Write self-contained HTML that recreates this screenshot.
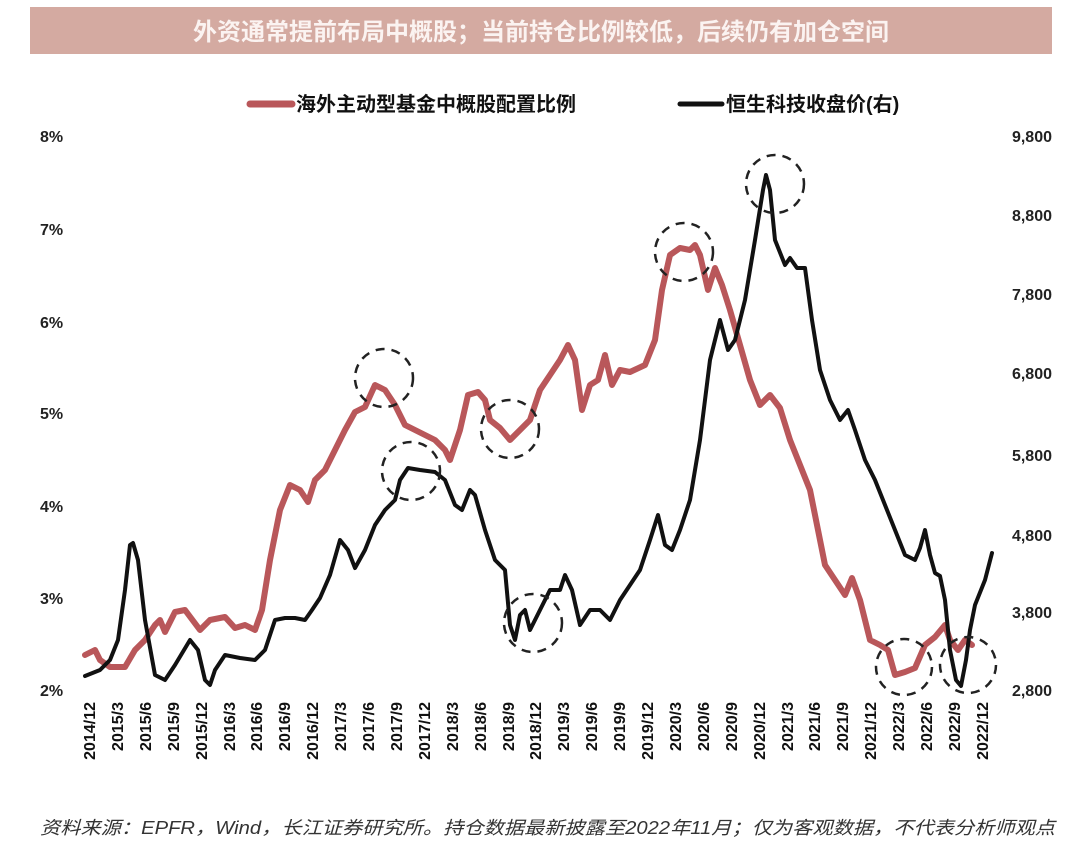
<!DOCTYPE html>
<html><head><meta charset="utf-8"><style>
body{margin:0;background:#fff;width:1080px;height:842px;overflow:hidden;font-family:"Liberation Sans","Noto Sans CJK SC",sans-serif}
</style></head><body>
<svg width="1080" height="842" xmlns="http://www.w3.org/2000/svg" font-family="Liberation Sans, Noto Sans CJK SC, sans-serif">
<rect x="30" y="7" width="1022" height="47" fill="#d4aaa1"/>
<text x="541" y="40" text-anchor="middle" font-size="24" font-weight="bold" fill="#fbf3f1">外资通常提前布局中概股；当前持仓比例较低，后续仍有加仓空间</text>
<line x1="250" y1="104" x2="292" y2="104" stroke="#b9575a" stroke-width="7" stroke-linecap="round"/>
<text x="296" y="111" font-size="20" font-weight="bold" fill="#111">海外主动型基金中概股配置比例</text>
<line x1="680" y1="104" x2="722" y2="104" stroke="#111" stroke-width="5" stroke-linecap="round"/>
<text x="726" y="111" font-size="20" font-weight="bold" fill="#111">恒生科技收盘价(右)</text>
<g font-size="16" font-weight="bold" fill="#222">
<text x="40" y="142">8%</text><text x="40" y="235">7%</text><text x="40" y="328">6%</text><text x="40" y="419">5%</text><text x="40" y="512">4%</text><text x="40" y="604">3%</text><text x="40" y="696">2%</text>
<g text-anchor="end"><text x="1052" y="142">9,800</text><text x="1052" y="221">8,800</text><text x="1052" y="300">7,800</text><text x="1052" y="379">6,800</text><text x="1052" y="461">5,800</text><text x="1052" y="541">4,800</text><text x="1052" y="618">3,800</text><text x="1052" y="696">2,800</text></g>
</g>
<g font-size="16" font-weight="bold" fill="#111" text-anchor="end">
<text transform="translate(95,702) rotate(-90)">2014/12</text><text transform="translate(123,702) rotate(-90)">2015/3</text><text transform="translate(151,702) rotate(-90)">2015/6</text><text transform="translate(179,702) rotate(-90)">2015/9</text><text transform="translate(207,702) rotate(-90)">2015/12</text><text transform="translate(235,702) rotate(-90)">2016/3</text><text transform="translate(262,702) rotate(-90)">2016/6</text><text transform="translate(290,702) rotate(-90)">2016/9</text><text transform="translate(318,702) rotate(-90)">2016/12</text><text transform="translate(346,702) rotate(-90)">2017/3</text><text transform="translate(374,702) rotate(-90)">2017/6</text><text transform="translate(402,702) rotate(-90)">2017/9</text><text transform="translate(430,702) rotate(-90)">2017/12</text><text transform="translate(458,702) rotate(-90)">2018/3</text><text transform="translate(486,702) rotate(-90)">2018/6</text><text transform="translate(514,702) rotate(-90)">2018/9</text><text transform="translate(541,702) rotate(-90)">2018/12</text><text transform="translate(569,702) rotate(-90)">2019/3</text><text transform="translate(597,702) rotate(-90)">2019/6</text><text transform="translate(625,702) rotate(-90)">2019/9</text><text transform="translate(653,702) rotate(-90)">2019/12</text><text transform="translate(681,702) rotate(-90)">2020/3</text><text transform="translate(709,702) rotate(-90)">2020/6</text><text transform="translate(737,702) rotate(-90)">2020/9</text><text transform="translate(765,702) rotate(-90)">2020/12</text><text transform="translate(793,702) rotate(-90)">2021/3</text><text transform="translate(820,702) rotate(-90)">2021/6</text><text transform="translate(848,702) rotate(-90)">2021/9</text><text transform="translate(876,702) rotate(-90)">2021/12</text><text transform="translate(904,702) rotate(-90)">2022/3</text><text transform="translate(932,702) rotate(-90)">2022/6</text><text transform="translate(960,702) rotate(-90)">2022/9</text><text transform="translate(988,702) rotate(-90)">2022/12</text>
</g>
<polyline fill="none" stroke="#b9575a" stroke-width="6" stroke-linejoin="round" stroke-linecap="round" points="85,655 95,650 100,660 110,667 125,667 135,650 145,640 155,625 160,620 165,632 175,612 185,610 200,630 210,620 225,617 235,628 245,625 255,630 262,610 270,560 280,510 290,485 300,490 308,502 315,480 325,470 335,450 345,430 355,412 365,407 375,385 385,390 395,405 405,425 415,430 425,435 435,440 445,450 450,460 460,430 468,395 478,392 485,400 490,420 500,428 510,440 520,430 530,420 540,390 550,375 560,360 568,345 575,360 582,410 590,385 598,380 605,355 612,385 620,370 630,372 645,365 655,340 662,290 670,255 680,248 690,250 695,245 700,255 708,290 715,268 722,285 730,310 740,345 750,380 760,405 770,395 780,408 790,440 800,465 810,490 818,530 825,565 835,580 845,595 852,578 860,600 870,640 880,645 888,650 895,675 905,672 915,668 925,645 935,637 945,625 950,640 958,650 965,640 972,645"/>
<polyline fill="none" stroke="#111" stroke-width="4" stroke-linejoin="round" stroke-linecap="round" points="85,676 100,670 110,660 118,640 125,590 130,545 133,543 138,560 145,620 155,675 165,680 175,665 190,640 198,650 205,680 210,685 215,670 225,655 240,658 255,660 265,650 275,620 285,618 295,618 305,620 312,610 320,598 330,575 340,540 348,550 355,568 365,550 375,525 385,510 395,500 400,480 408,468 420,470 435,472 445,480 455,505 462,510 470,490 475,495 485,530 495,560 505,570 510,625 515,640 520,615 525,610 530,630 540,610 550,590 560,590 565,575 572,590 580,625 590,610 600,610 610,620 620,600 630,585 640,570 650,540 658,515 665,545 672,550 680,530 690,500 700,440 710,360 720,320 728,350 735,340 745,300 755,240 763,190 766,175 770,190 775,240 785,265 790,258 797,268 805,268 812,320 820,370 825,385 830,400 840,420 848,410 855,430 865,460 875,480 885,505 895,530 905,555 915,560 920,548 925,530 930,555 935,573 940,576 945,600 950,650 956,680 961,686 966,660 970,630 975,605 985,580 992,553"/>
<g fill="none" stroke="#222" stroke-width="2.5" stroke-dasharray="9,7">
<circle cx="384" cy="378" r="29"/><circle cx="411" cy="471" r="29"/><circle cx="684" cy="252" r="29"/><circle cx="775" cy="184" r="29"/><circle cx="510" cy="429" r="29"/><circle cx="533" cy="623" r="29"/><circle cx="904" cy="667" r="28"/><circle cx="968" cy="665" r="28"/>
</g>
<text x="40" y="834" font-size="18" font-style="italic" fill="#333" textLength="1015" lengthAdjust="spacingAndGlyphs">资料来源：EPFR，Wind，长江证券研究所。持仓数据最新披露至2022年11月；仅为客观数据，不代表分析师观点</text>
</svg>
</body></html>
